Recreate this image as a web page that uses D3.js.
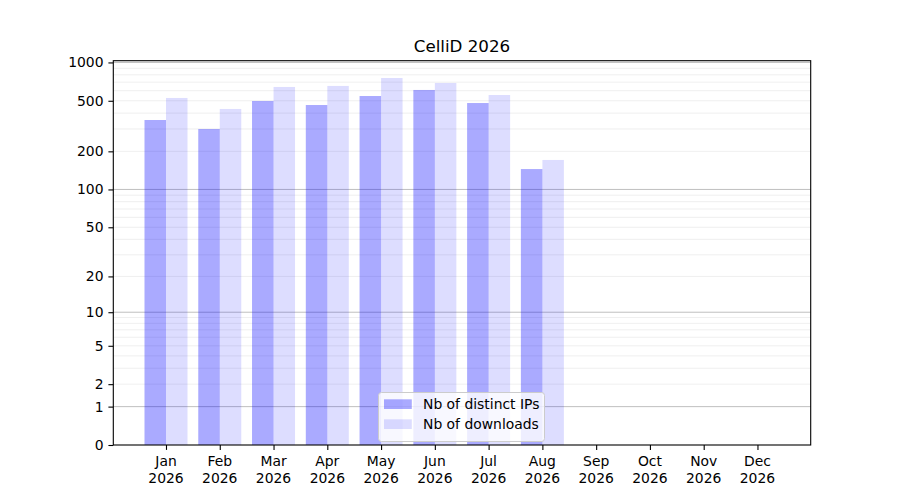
<!DOCTYPE html>
<html>
<head>
<meta charset="utf-8">
<script src="https://cdn.jsdelivr.net/npm/d3@7"></script>
<style>
  body { margin: 0; background: #fff; }
  text { font-family: "DejaVu Sans", sans-serif; fill: #000; }
</style>
</head>
<body>
<div id="chart"></div>
<script>
// data
let months = ['Jan', 'Feb', 'Mar', 'Apr', 'May', 'Jun', 'Jul', 'Aug', 'Sep', 'Oct', 'Nov', 'Dec'];
let year = '2026';
let distinctIPs = [353, 300, 498, 463, 545, 608, 480, 145, null, null, null, null];
let downloads = [526, 431, 642, 654, 755, 690, 555, 171, null, null, null, null];
let yTicks = [0, 1, 2, 5, 10, 20, 50, 100, 200, 500, 1000];
let majorGrid = [1, 10, 100, 1000];
let minorGrid = [2, 3, 4, 5, 6, 7, 8, 9, 20, 30, 40, 50, 60, 70, 80, 90, 200, 300, 400, 500, 600, 700, 800, 900];
let title = 'CelliD 2026';
let seriesNames = ['Nb of distinct IPs', 'Nb of downloads'];

let width = 900;
let height = 500;
let plotLeft = 113.3, plotRight = 810.7, plotTop = 60.7, plotBottom = 445;

let svg = d3.select('#chart')
  .append('svg')
  .attr('width', width)
  .attr('height', height);

let x = d3.scaleLinear().domain([-0.98, 11.99]).range([plotLeft, plotRight]);
let y = d3.scaleSymlog().constant(1).domain([0, 1032]).range([plotBottom, plotTop]);
let barW = (x(1) - x(0)) * 0.4;

// grid under the bars (bars are translucent, so it shows through)
let grid = svg.append('g');
grid.selectAll('.minor')
  .data(minorGrid)
  .enter()
  .append('line')
  .attr('x1', plotLeft).attr('x2', plotRight)
  .attr('y1', d => y(d)).attr('y2', d => y(d))
  .attr('stroke', '#b0b0b0')
  .attr('stroke-opacity', 0.2)
  .attr('stroke-width', 1);
grid.selectAll('.major')
  .data(majorGrid)
  .enter()
  .append('line')
  .attr('x1', plotLeft).attr('x2', plotRight)
  .attr('y1', d => y(d)).attr('y2', d => y(d))
  .attr('stroke', '#b0b0b0')
  .attr('stroke-opacity', 0.8)
  .attr('stroke-width', 1);

let ipBars = months.map((m, i) => ({ i: i, v: distinctIPs[i] })).filter(d => d.v != null);
let dlBars = months.map((m, i) => ({ i: i, v: downloads[i] })).filter(d => d.v != null);

svg.append('g').selectAll('rect')
  .data(ipBars)
  .enter()
  .append('rect')
  .attr('x', d => x(d.i) - barW)
  .attr('y', d => y(d.v))
  .attr('width', barW)
  .attr('height', d => y(0) - y(d.v))
  .attr('fill', 'blue')
  .attr('fill-opacity', 0.333);

svg.append('g').selectAll('rect')
  .data(dlBars)
  .enter()
  .append('rect')
  .attr('x', d => x(d.i))
  .attr('y', d => y(d.v))
  .attr('width', barW)
  .attr('height', d => y(0) - y(d.v))
  .attr('fill', 'blue')
  .attr('fill-opacity', 0.133);

// axes
let yAxis = d3.axisLeft(y)
  .tickValues(yTicks)
  .tickFormat(d3.format('d'))
  .tickSize(4.9)
  .tickPadding(4.9);
let gy = svg.append('g')
  .attr('transform', `translate(${plotLeft},0)`)
  .call(yAxis);
gy.select('.domain').remove();
gy.selectAll('line').attr('stroke', '#000').attr('stroke-width', 1.1);
gy.selectAll('text').style('font-size', '13.9px');

let xAxis = d3.axisBottom(x)
  .tickValues(d3.range(months.length))
  .tickFormat(() => '')
  .tickSize(4.9);
let gx = svg.append('g')
  .attr('transform', `translate(0,${plotBottom})`)
  .call(xAxis);
gx.select('.domain').remove();
gx.selectAll('line').attr('stroke', '#000').attr('stroke-width', 1.1);

let xl = svg.append('g').selectAll('text')
  .data(months)
  .enter()
  .append('text')
  .attr('x', (d, i) => x(i))
  .attr('y', plotBottom + 21)
  .attr('text-anchor', 'middle')
  .style('font-size', '13.9px');
xl.append('tspan').attr('x', (d, i) => x(i)).text(d => d);
xl.append('tspan').attr('x', (d, i) => x(i)).attr('dy', 16.7).text(year);

// frame
svg.append('rect')
  .attr('x', plotLeft).attr('y', plotTop)
  .attr('width', plotRight - plotLeft).attr('height', plotBottom - plotTop)
  .attr('fill', 'none')
  .attr('stroke', '#000')
  .attr('stroke-width', 1.1);

// title
svg.append('text')
  .attr('x', (plotLeft + plotRight) / 2)
  .attr('y', 52)
  .attr('text-anchor', 'middle')
  .style('font-size', '16.7px')
  .text(title);

// legend
let legend = svg.append('g').attr('transform', 'translate(378.5,392.5)');
legend.append('rect')
  .attr('width', 166).attr('height', 49)
  .attr('rx', 3)
  .attr('fill', '#fff')
  .attr('fill-opacity', 0.8)
  .attr('stroke', '#cccccc')
  .attr('stroke-width', 1);
let entries = legend.selectAll('.entry')
  .data(seriesNames)
  .enter()
  .append('g')
  .attr('transform', (d, i) => `translate(0,${i * 20})`);
entries.append('rect')
  .attr('x', 5.5).attr('y', 6.8)
  .attr('width', 27.8).attr('height', 9.7)
  .attr('fill', 'blue')
  .attr('fill-opacity', (d, i) => i === 0 ? 0.333 : 0.133);
entries.append('text')
  .attr('x', 44.5).attr('y', 16.5)
  .style('font-size', '13.9px')
  .text(d => d);
</script>
</body>
</html>
